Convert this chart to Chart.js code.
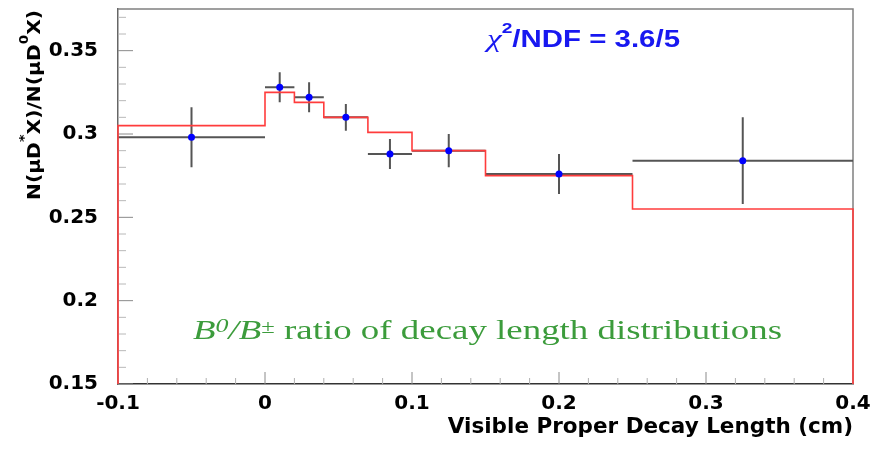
<!DOCTYPE html>
<html>
<head>
<meta charset="utf-8">
<script src="https://cdn.jsdelivr.net/npm/chart.js@4.4.1/dist/chart.umd.min.js"></script>
<style>
  html, body { margin: 0; padding: 0; background: #fff; }
  #wrap { width: 873px; height: 450px; }
</style>
</head>
<body>
<div id="wrap"><canvas id="c"></canvas></div>
<script>
// bins of visible proper decay length (cm)
const binEdges = [-0.1, 0, 0.02, 0.04, 0.07, 0.1, 0.15, 0.25, 0.4]
// measured N(muD*X)/N(muD0X) per bin and its error
const ratioValues = [0.298, 0.328, 0.322, 0.310, 0.288, 0.290, 0.276, 0.284]
const ratioErrors = [0.018, 0.009, 0.009, 0.008, 0.009, 0.010, 0.012, 0.026]
// fitted ratio per bin (red histogram)
const fitValues = [0.305, 0.325, 0.319, 0.310, 0.301, 0.290, 0.275, 0.255]

const xTicks = [-0.1, 0, 0.1, 0.2, 0.3, 0.4]
const xTickLabels = ['-0.1', '0', '0.1', '0.2', '0.3', '0.4']
const yTicks = [0.15, 0.2, 0.25, 0.3, 0.35]
const yTickLabels = ['0.15', '0.2', '0.25', '0.3', '0.35']

const X_MIN = -0.1, X_MAX = 0.4
const Y_MIN = 0.15, Y_MAX = 0.375

const binCenter = i => (binEdges[i] + binEdges[i + 1]) / 2

// step outline of the fit, closed down to the bottom at both ends
const fitPoints = [{ x: binEdges[0], y: Y_MIN }]
fitValues.forEach((v, i) => fitPoints.push({ x: binEdges[i], y: v }))
fitPoints.push({ x: binEdges[binEdges.length - 1], y: fitValues[fitValues.length - 1] })
fitPoints.push({ x: binEdges[binEdges.length - 1], y: Y_MIN })

const dataPoints = ratioValues.map((v, i) => ({ x: binCenter(i), y: v }))

// draw a row of text pieces, squeezed/stretched to a given width
function drawRuns(ctx, runs, x0, y0, width, angle) {
  let total = 0
  runs.forEach(r => {
    ctx.font = r.font
    r.w = ctx.measureText(r.text).width
    total += r.w
  })
  ctx.save()
  ctx.translate(x0, y0)
  if (angle) ctx.rotate(angle)
  ctx.scale(width / total, 1)
  ctx.textBaseline = 'alphabetic'
  ctx.textAlign = 'left'
  let cx = 0
  runs.forEach(r => {
    ctx.font = r.font
    ctx.fillText(r.text, cx, r.dy || 0)
    cx += r.w
  })
  ctx.restore()
}

const framePlugin = {
  id: 'frame',
  beforeDatasetsDraw(chart) {
    const { ctx, chartArea: a, scales: { x, y } } = chart
    ctx.save()

    // top and right border
    ctx.strokeStyle = '#808080'
    ctx.lineWidth = 1.5
    ctx.beginPath()
    ctx.moveTo(a.left, a.top)
    ctx.lineTo(a.right, a.top)
    ctx.lineTo(a.right, a.bottom)
    ctx.stroke()

    // inward ticks on the x axis: minor every 0.02
    ctx.lineWidth = 1
    for (let k = 0; k <= 25; k++) {
      const v = X_MIN + k * 0.02
      const px = x.getPixelForValue(v)
      const major = k % 5 === 0
      ctx.strokeStyle = major ? '#8a8a8a' : '#b0b0b0'
      ctx.beginPath()
      ctx.moveTo(px, a.bottom)
      ctx.lineTo(px, a.bottom - (major ? 12 : 6))
      ctx.stroke()
    }
    // inward ticks on the y axis: minor every 0.01
    for (let k = 0; k <= 22; k++) {
      const v = Y_MIN + k * 0.01
      const py = y.getPixelForValue(v)
      const major = k % 5 === 0
      ctx.strokeStyle = major ? '#8a8a8a' : '#b8b8b8'
      ctx.beginPath()
      ctx.moveTo(a.left, py)
      ctx.lineTo(a.left + (major ? 15 : 8), py)
      ctx.stroke()
    }

    // error bars of the measured ratio
    ctx.strokeStyle = '#555'
    ctx.lineWidth = 2
    ratioValues.forEach((v, i) => {
      const yc = y.getPixelForValue(v)
      const xc = x.getPixelForValue(binCenter(i))
      ctx.beginPath()
      ctx.moveTo(x.getPixelForValue(binEdges[i]), yc)
      ctx.lineTo(x.getPixelForValue(binEdges[i + 1]), yc)
      ctx.moveTo(xc, y.getPixelForValue(v - ratioErrors[i]))
      ctx.lineTo(xc, y.getPixelForValue(v + ratioErrors[i]))
      ctx.stroke()
    })
    ctx.restore()
  },
  afterDraw(chart) {
    const ctx = chart.ctx

    // chi2 box
    ctx.fillStyle = '#1818f0'
    drawRuns(ctx, [
      { text: 'χ', font: 'italic 26px "Liberation Serif"' },
      { text: '2', font: 'bold 15px "Liberation Sans"', dy: -14 },
      { text: '/NDF = 3.6/5', font: 'bold 23px "Liberation Sans"' },
    ], 487, 47, 193)

    // caption
    ctx.fillStyle = '#3c9c3c'
    drawRuns(ctx, [
      { text: 'B', font: 'italic 27px "Liberation Serif"' },
      { text: '0', font: 'italic 19px "Liberation Serif"', dy: -7 },
      { text: '/B', font: 'italic 27px "Liberation Serif"' },
      { text: '±', font: '18px "Liberation Serif"', dy: -6 },
      { text: ' ratio of decay length distributions', font: '27px "Liberation Serif"' },
    ], 193, 339, 589)

    // y axis title, rotated
    ctx.fillStyle = '#000'
    drawRuns(ctx, [
      { text: 'N(μD', font: 'bold 18px "DejaVu Sans"' },
      { text: '*', font: 'bold 13px "DejaVu Sans"', dy: -12 },
      { text: 'X)/N(μD', font: 'bold 18px "DejaVu Sans"' },
      { text: '0', font: 'bold 12px "DejaVu Sans"', dy: -12 },
      { text: 'X)', font: 'bold 18px "DejaVu Sans"' },
    ], 40, 200, 190, -Math.PI / 2)
  }
}

const tickFont = { family: 'DejaVu Sans', size: 20, weight: 'bold' }

new Chart(document.getElementById('c'), {
  type: 'scatter',
  plugins: [framePlugin],
  data: {
    datasets: [
      {
        label: 'fit',
        data: fitPoints,
        showLine: true,
        stepped: true,
        borderColor: 'rgb(255,60,60)',
        borderWidth: 1.6,
        pointRadius: 0,
        fill: false,
        clip: false,
        order: 1,
      },
      {
        label: 'data',
        data: dataPoints,
        pointRadius: 3.5,
        pointBackgroundColor: '#0000ff',
        pointBorderWidth: 0,
        order: 0,
      },
    ]
  },
  options: {
    responsive: true,
    maintainAspectRatio: false,
    animation: false,
    layout: { padding: { top: 9, right: 20, left: 0, bottom: 0 } },
    scales: {
      x: {
        type: 'linear',
        min: X_MIN,
        max: X_MAX,
        afterBuildTicks(s) { s.ticks = xTicks.map(v => ({ value: v })) },
        afterFit(s) {
          s.height = 66
          s.paddingLeft = 0; s.paddingRight = 0
        },
        grid: { display: false, drawTicks: false },
        border: { display: true, color: '#333', width: 1.5 },
        ticks: {
          autoSkip: false,
          maxRotation: 0,
          padding: 8,
          color: '#000',
          font: tickFont,
          callback: (v, i) => xTickLabels[i],
        },
        title: {
          display: true,
          text: 'Visible Proper Decay Length (cm)',
          align: 'end',
          color: '#000',
          font: { family: 'DejaVu Sans', size: 21.5, weight: 'bold' },
          padding: { top: 0, bottom: 10 },
        },
      },
      y: {
        type: 'linear',
        min: Y_MIN,
        max: Y_MAX,
        afterBuildTicks(s) { s.ticks = yTicks.map(v => ({ value: v })) },
        afterFit(s) {
          s.width = 118
          s.paddingTop = 0; s.paddingBottom = 0
        },
        grid: { display: false, drawTicks: false },
        border: { display: true, color: '#666', width: 1.5 },
        ticks: {
          autoSkip: false,
          padding: 20,
          color: '#000',
          font: tickFont,
          callback: (v, i) => yTickLabels[i],
        },
      },
    },
    plugins: {
      legend: { display: false },
      tooltip: { enabled: false },
    }
  }
})
</script>
</body>
</html>
